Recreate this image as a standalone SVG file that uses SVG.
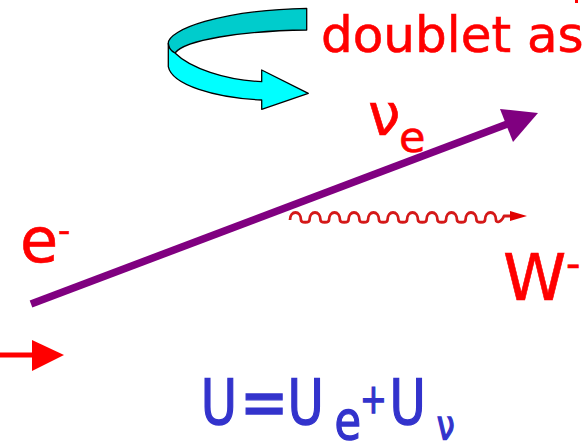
<svg xmlns="http://www.w3.org/2000/svg" width="586" height="443" viewBox="0 0 586 443">
<style>
.red{fill:#FF0000;stroke:#FF0000;stroke-width:0.6;font-family:"DejaVu Sans",sans-serif}
.blue{fill:#3333CC;stroke:#3333CC;stroke-width:1.4;font-family:"DejaVu Sans",sans-serif}
.rib{stroke:#000;stroke-width:1.3;stroke-linejoin:round}
</style>
<rect width="586" height="443" fill="#fff"/>
<g id="rotation-arrow">
<path class="rib" fill="#00CCCC" d="M306.7,8.3 L306.7,30 C240,31 185,40 175,53 C171,51 168.3,47 168.3,43.3 C168,30 220,10 306.7,8.3 Z"/>
<path class="rib" fill="#00FFFF" d="M168.3,43.3 C168.3,48 171,51 175,53 C190,68 225,80 261.7,81.7 L261.7,70 L308.3,93.3 L261.7,109.3 L261.7,100 C215,98 172,85 168.3,66.7 Z"/>
</g>
<g id="title">
<text class="red" x="321" y="52" font-size="50">doublet as</text>
<rect x="575" y="0" width="3" height="3" fill="#FF0000"/>
</g>
<g id="connectors">
<g id="fermion-line">
<line x1="31" y1="304" x2="510" y2="123" stroke="#800080" stroke-width="7.5"/>
<polygon points="538,113 500,109 513,142" fill="#800080"/>
</g>
<g id="w-boson">
<path d="M290,220 c0,-10 11,-10 11,0 c0,3 8.5,3 8.5,0 c0,-10 11,-10 11,0 c0,3 8.5,3 8.5,0 c0,-10 11,-10 11,0 c0,3 8.5,3 8.5,0 c0,-10 11,-10 11,0 c0,3 8.5,3 8.5,0 c0,-10 11,-10 11,0 c0,3 8.5,3 8.5,0 c0,-10 11,-10 11,0 c0,3 8.5,3 8.5,0 c0,-10 11,-10 11,0 c0,3 8.5,3 8.5,0 c0,-10 11,-10 11,0 c0,3 8.5,3 8.5,0 c0,-10 11,-10 11,0 c0,3 8.5,3 8.5,0 c0,-10 11,-10 11,0 c0,3 8.5,3 8.5,0 c0,-10 11,-10 11,0 c0,3 5,3 8,-4 L512,216" fill="none" stroke="#D41818" stroke-width="2.8" stroke-linejoin="round"/>
<polygon points="510,211 527,216 510,221" fill="#E00000"/>
</g>
<g id="incoming-arrow">
<line x1="0" y1="355" x2="34" y2="355" stroke="#FF0000" stroke-width="5"/>
<polygon points="32,340 64,355 32,371" fill="#FF0000"/>
</g>
</g>
<g id="label-nu-e">
<text class="red" x="368" y="135" font-size="58">ν<tspan x="399" y="152" font-size="43">e</tspan></text>
</g>
<g id="label-e">
<text class="red" x="20" y="262" font-size="62">e<tspan x="58" y="242" font-size="34">-</tspan></text>
</g>
<g id="label-w">
<text class="red" x="503" y="300" font-size="64">W<tspan x="566" y="278" font-size="40">-</tspan></text>
</g>
<g id="formula">
<text class="blue" transform="translate(0,424) scale(0.8,1)" font-size="62"><tspan x="250.8" y="0">U</tspan><tspan x="300" y="2" font-size="72">=</tspan><tspan x="359.5" y="0">U</tspan><tspan x="418" y="15" font-size="54">e</tspan><tspan x="450" y="-11" font-size="40">+</tspan><tspan x="487" y="0">U</tspan><tspan x="546" y="15" font-size="40">ν</tspan></text>
</g>
</svg>
